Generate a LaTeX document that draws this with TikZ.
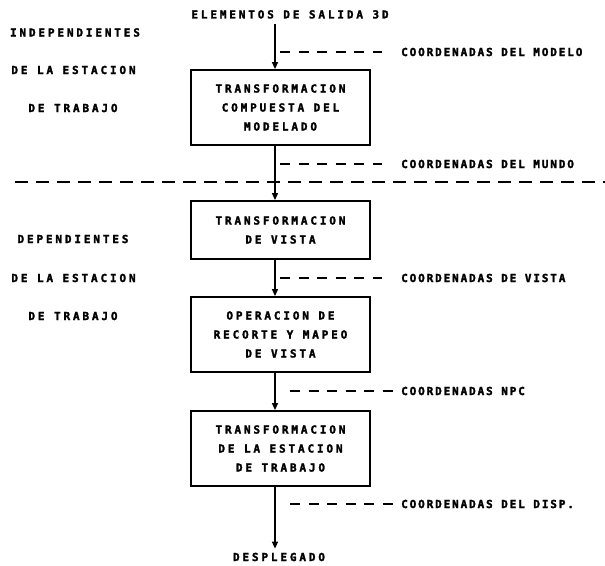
\documentclass[tikz,border=0pt]{standalone}
\usepackage{fontspec}
\usetikzlibrary{arrows.meta}
\newfontfamily\plotfont[LetterSpace=26, FakeBold=2.2]{DejaVu Sans Mono Bold}
\newfontfamily\plotfontnarrow[LetterSpace=17, FakeBold=2.2]{DejaVu Sans Mono Bold}

\tikzset{
  txt/.style={font=\plotfont\fontsize{11}{19}\selectfont, inner sep=0pt, text=black},
  coordtxt/.style={font=\plotfontnarrow\fontsize{11}{19}\selectfont, inner sep=0pt, text=black, anchor=west},
  stage/.style={txt, draw, line width=1.8pt, minimum width=179pt, align=center},
  flow/.style={-{Triangle[length=7pt,width=6pt]}, line width=1.4pt},
  coordline/.style={line width=1.3pt, dash pattern=on 10pt off 8.5pt},
  divider/.style={line width=2.4pt, dash pattern=on 13pt off 8pt},
}

\begin{document}
\begin{tikzpicture}[x=1pt, y=-1pt]
  % page
  \fill[white] (0,0) rectangle (605,565);
  \useasboundingbox (0,0) rectangle (605,565);

  % main flow axis
  \coordinate (ax) at (275,0);

  % source and sink
  \node[txt] (src) at (290,14.4) {ELEMENTOS DE SALIDA 3D};
  \node[txt] (out) at (279,557) {DESPLEGADO};

  % pipeline stages
  \node[stage, minimum height=75pt] (b1) at (280.5,107.5)
    {TRANSFORMACION\\COMPUESTA DEL\\MODELADO};
  \node[stage, minimum height=58pt] (b2) at (280.5,230)
    {TRANSFORMACION\\DE VISTA};
  \node[stage, minimum height=75pt] (b3) at (280.5,334.5)
    {OPERACION DE\\RECORTE Y MAPEO\\DE VISTA};
  \node[stage, minimum height=75pt] (b4) at (280.5,448.5)
    {TRANSFORMACION\\DE LA ESTACION\\DE TRABAJO};

  % arrows between stages
  \draw[flow] ([yshift=-5pt]src.south -| ax) -- (b1.north -| ax);
  \draw[flow] (b1.south -| ax) -- (b2.north -| ax);
  \draw[flow] (b2.south -| ax) -- (b3.north -| ax);
  \draw[flow] (b3.south -| ax) -- (b4.north -| ax);
  \draw[flow] (b4.south -| ax) -- ([yshift=4pt]out.north -| ax);

  % coordinate system labels
  \node[coordtxt] (lmod) at (401,52)  {COORDENADAS DEL MODELO};
  \node[coordtxt] (lmun) at (401,164) {COORDENADAS DEL MUNDO};
  \node[coordtxt] (lvis) at (401,278) {COORDENADAS DE VISTA};
  \node[coordtxt] (lnpc) at (401,391) {COORDENADAS NPC};
  \node[coordtxt] (ldsp) at (401,504) {COORDENADAS DEL DISP.};

  \coordinate (dmod) at (280,52);
  \coordinate (dmun) at (280,164);
  \coordinate (dvis) at (280,278);
  \coordinate (dnpc) at (290,391);
  \coordinate (ddsp) at (290,504);

  \draw[coordline, shorten >=19pt] (dmod) -- (lmod.west);
  \draw[coordline, shorten >=19pt] (dmun) -- (lmun.west);
  \draw[coordline, shorten >=19pt] (dvis) -- (lvis.west);
  \draw[coordline, shorten >=7pt]  (dnpc) -- (lnpc.west);
  \draw[coordline, shorten >=7pt]  (ddsp) -- (ldsp.west);

  % workstation independent / dependent split
  \coordinate (sepL) at (15,182);
  \coordinate (sepR) at (605,182);
  \draw[divider] (sepL) -- (sepR);

  \node[txt] (ind1) at (75,32.5) {INDEPENDIENTES};
  \node[txt] (ind2) at (73.5,70) {DE LA ESTACION};
  \node[txt] (ind3) at (73,108)  {DE TRABAJO};

  \node[txt] (dep1) at (73,239)   {DEPENDIENTES};
  \node[txt] (dep2) at (73.5,278) {DE LA ESTACION};
  \node[txt] (dep3) at (73,316)   {DE TRABAJO};
\end{tikzpicture}
\end{document}
